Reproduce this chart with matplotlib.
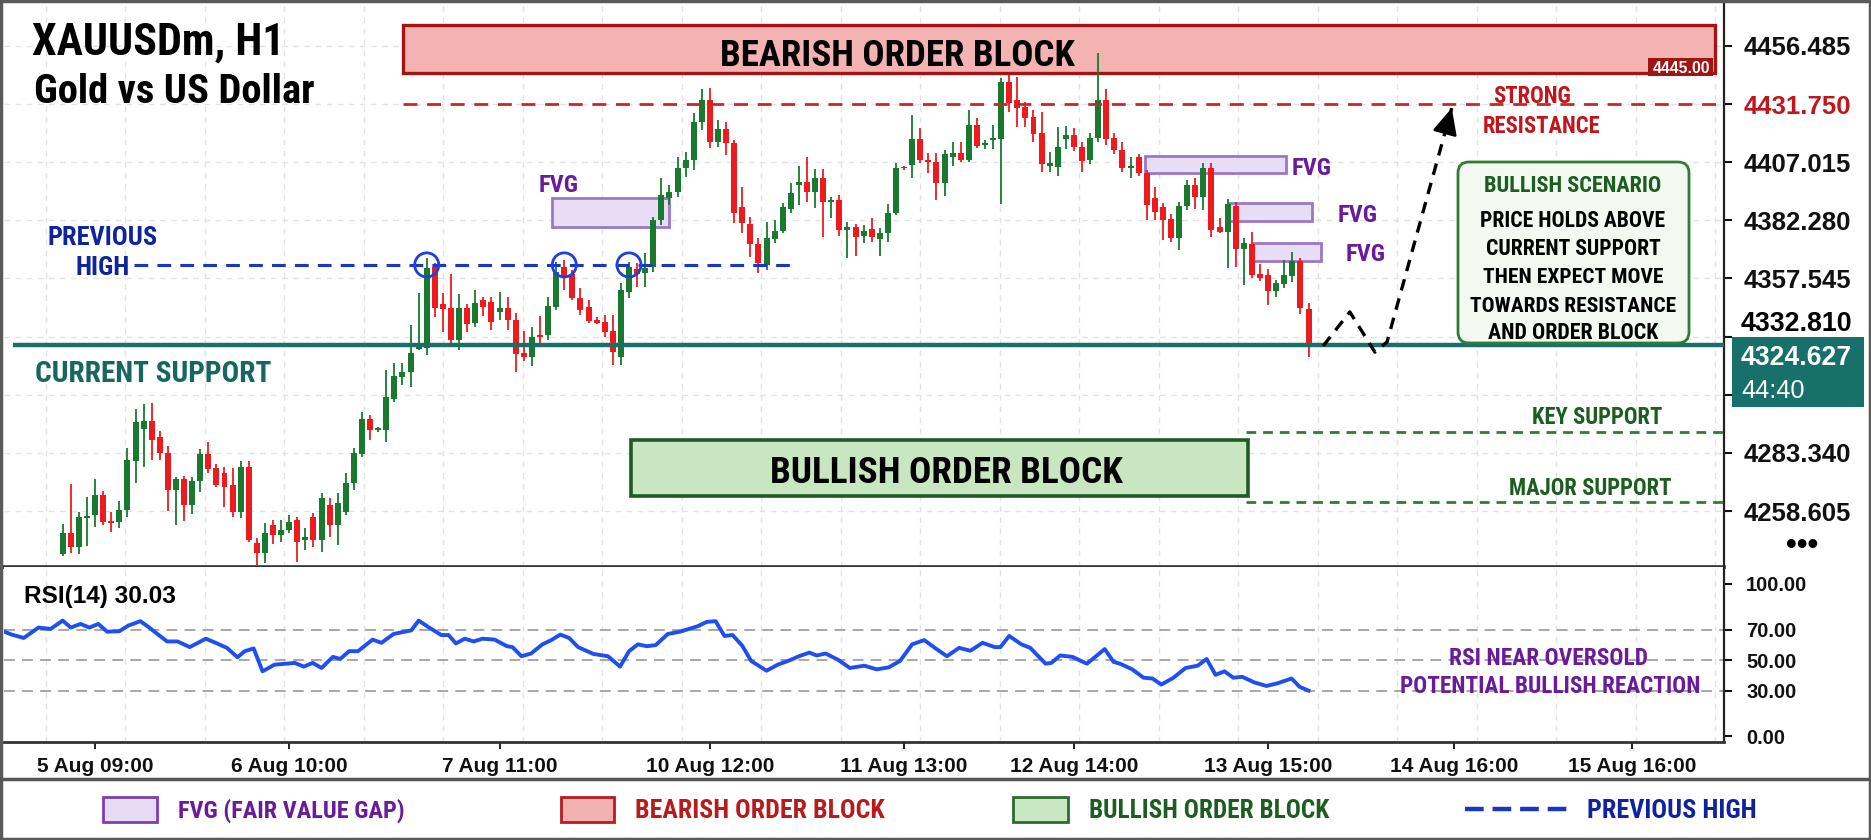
import os
import matplotlib
matplotlib.use("Agg")
import matplotlib.pyplot as plt
from matplotlib.patches import Rectangle, FancyBboxPatch
from matplotlib.lines import Line2D
from matplotlib import font_manager as fm
import numpy as np

# ---------------- data ----------------
opens = [4240.3, 4249.1, 4243.4, 4255.5, 4256.9, 4265.3, 4254.4, 4254.1, 4259.0, 4280.0,
         4293.4, 4297.0, 4290.0, 4283.4, 4267.5, 4272.1, 4261.2, 4271.5, 4282.9, 4276.8,
         4274.6, 4269.7, 4258.3, 4277.5, 4245.1, 4240.6, 4252.7, 4248.4, 4250.5, 4254.8,
         4246.3, 4256.2, 4246.3, 4261.2, 4252.6, 4258.3, 4270.4, 4282.8, 4297.6, 4293.1,
         4293.1, 4306.1, 4315.7, 4317.9, 4327.4, 4327.8, 4362.5, 4346.5, 4344.8, 4331.3,
         4344.8, 4338.4, 4348.4, 4347.7, 4343.4, 4344.8, 4339.9, 4326.0, 4324.3, 4333.5,
         4333.5, 4345.5, 4362.5, 4359.4, 4349.1, 4345.2, 4339.9, 4339.1, 4335.3, 4324.3,
         4351.9, 4361.4, 4360.0, 4362.5, 4382.4, 4391.6, 4394.4, 4404.4, 4407.9, 4424.2,
         4433.4, 4415.7, 4421.0, 4415.0, 4388.1, 4380.7, 4372.2, 4363.2, 4374.2, 4377.9,
         4386.9, 4397.3, 4398.5, 4394.2, 4400.4, 4390.2, 4390.9, 4378.2, 4379.6, 4375.8,
         4378.6, 4374.3, 4376.7, 4385.2, 4405.1, 4405.8, 4416.7, 4407.9, 4406.9, 4398.0,
         4409.4, 4410.8, 4407.9, 4422.8, 4414.3, 4416.4, 4416.9, 4441.0, 4433.5, 4430.6,
         4426.4, 4419.3, 4405.5, 4405.1, 4416.9, 4418.6, 4413.6, 4407.9, 4417.2, 4433.5,
         4417.4, 4412.2, 4404.7, 4409.4, 4402.3, 4391.9, 4388.1, 4382.8, 4374.9, 4388.5,
         4397.3, 4392.3, 4404.4, 4379.6, 4377.5, 4388.5, 4370.1, 4372.1, 4359.3, 4359.0,
         4352.2, 4355.1, 4358.7, 4364.9, 4344.6]
highs = [4253.1, 4270.1, 4258.3, 4264.4, 4272.1, 4267.3, 4258.3, 4263.0, 4285.3, 4301.9,
         4304.1, 4304.7, 4292.8, 4286.3, 4273.2, 4273.5, 4272.9, 4284.8, 4288.1, 4278.6,
         4277.2, 4276.8, 4280.0, 4280.0, 4247.0, 4253.7, 4254.8, 4254.8, 4256.9, 4256.2,
         4251.2, 4257.6, 4266.1, 4264.0, 4266.1, 4274.6, 4285.3, 4300.9, 4299.4, 4294.5,
         4318.6, 4321.4, 4321.4, 4337.7, 4351.2, 4366.1, 4364.0, 4351.5, 4359.4, 4350.9,
         4346.7, 4352.6, 4349.8, 4349.5, 4351.9, 4349.5, 4343.0, 4335.3, 4337.0, 4341.6,
         4349.8, 4364.7, 4365.4, 4361.1, 4353.3, 4348.4, 4341.0, 4342.0, 4342.0, 4355.4,
         4364.7, 4364.0, 4368.5, 4383.8, 4400.1, 4397.3, 4409.0, 4411.5, 4427.8, 4438.0,
         4438.4, 4424.9, 4424.2, 4416.4, 4396.6, 4383.8, 4374.6, 4381.7, 4382.4, 4389.5,
         4398.0, 4405.5, 4409.4, 4404.1, 4404.1, 4392.3, 4393.0, 4381.4, 4380.6, 4380.3,
         4383.4, 4379.2, 4389.1, 4406.5, 4405.5, 4427.1, 4421.4, 4410.8, 4410.8, 4412.2,
         4415.7, 4415.4, 4429.2, 4425.6, 4416.4, 4422.8, 4442.7, 4444.1, 4443.4, 4432.7,
         4429.2, 4428.5, 4411.2, 4422.1, 4422.5, 4421.4, 4415.7, 4419.3, 4453.3, 4438.1,
         4419.3, 4415.7, 4409.4, 4410.3, 4403.7, 4396.6, 4389.5, 4384.8, 4390.2, 4399.4,
         4400.4, 4406.5, 4406.5, 4383.2, 4391.4, 4390.2, 4374.9, 4377.5, 4363.6, 4361.6,
         4356.9, 4365.4, 4369.0, 4366.1, 4347.0]
lows = [4239.5, 4240.6, 4240.3, 4243.7, 4251.7, 4252.7, 4249.8, 4251.2, 4256.2, 4270.4,
        4277.5, 4280.3, 4280.3, 4258.8, 4252.7, 4254.5, 4257.3, 4266.8, 4274.6, 4269.0,
        4260.2, 4256.2, 4255.5, 4245.6, 4235.5, 4236.4, 4244.6, 4245.6, 4249.1, 4237.0,
        4242.0, 4243.4, 4241.3, 4247.7, 4244.1, 4256.9, 4267.5, 4281.7, 4288.8, 4292.3,
        4288.1, 4305.1, 4312.2, 4311.5, 4327.1, 4325.0, 4341.0, 4334.9, 4328.5, 4327.1,
        4334.9, 4337.0, 4341.6, 4335.6, 4339.9, 4335.6, 4317.9, 4322.6, 4320.3, 4329.9,
        4331.3, 4344.1, 4352.6, 4348.4, 4342.0, 4338.4, 4338.2, 4332.8, 4320.7, 4320.7,
        4349.1, 4354.0, 4354.0, 4360.4, 4380.3, 4388.8, 4392.3, 4400.5, 4403.7, 4420.7,
        4412.9, 4413.3, 4410.0, 4381.0, 4376.7, 4366.8, 4359.7, 4361.1, 4372.5, 4377.0,
        4385.2, 4388.8, 4390.0, 4387.4, 4375.3, 4383.1, 4375.8, 4366.1, 4367.2, 4372.5,
        4373.2, 4367.2, 4373.2, 4384.5, 4403.7, 4400.1, 4406.5, 4402.3, 4390.9, 4392.8,
        4405.5, 4406.9, 4407.2, 4412.9, 4412.6, 4412.6, 4389.1, 4428.5, 4422.1, 4422.1,
        4415.7, 4402.7, 4403.0, 4401.3, 4412.6, 4411.8, 4402.7, 4406.1, 4415.4, 4414.3,
        4410.3, 4403.0, 4400.4, 4401.3, 4382.4, 4382.4, 4373.9, 4373.2, 4369.6, 4386.7,
        4387.1, 4386.7, 4375.3, 4376.8, 4361.9, 4362.6, 4354.8, 4357.6, 4356.5, 4346.3,
        4349.8, 4353.6, 4355.9, 4342.3, 4324.3]
closes = [4249.1, 4243.2, 4255.9, 4256.5, 4265.3, 4254.1, 4253.7, 4259.0, 4280.3, 4296.6,
          4297.0, 4288.8, 4283.1, 4267.5, 4272.1, 4261.2, 4271.5, 4282.9, 4276.3, 4269.7,
          4269.0, 4258.3, 4277.5, 4246.3, 4240.6, 4249.1, 4248.4, 4250.5, 4254.1, 4245.6,
          4247.7, 4246.3, 4264.0, 4252.6, 4261.9, 4270.4, 4283.1, 4297.6, 4293.1, 4293.6,
          4307.2, 4316.0, 4317.9, 4325.7, 4328.2, 4361.8, 4344.8, 4344.4, 4331.3, 4344.8,
          4338.2, 4347.2, 4345.2, 4339.1, 4344.8, 4339.9, 4325.4, 4324.3, 4332.8, 4332.8,
          4345.8, 4360.4, 4358.0, 4349.1, 4344.1, 4339.6, 4338.7, 4334.9, 4326.4, 4352.6,
          4362.5, 4359.4, 4361.8, 4382.4, 4393.0, 4394.4, 4404.4, 4407.9, 4424.2, 4433.4,
          4415.7, 4421.0, 4415.3, 4385.2, 4381.0, 4372.2, 4364.2, 4374.6, 4377.9, 4387.8,
          4393.7, 4398.5, 4394.2, 4400.4, 4390.2, 4390.9, 4378.2, 4379.6, 4375.3, 4377.7,
          4375.3, 4376.7, 4385.2, 4404.7, 4404.4, 4416.7, 4407.9, 4406.9, 4398.0, 4410.3,
          4410.8, 4407.9, 4422.8, 4414.0, 4414.9, 4417.4, 4441.0, 4432.0, 4429.9, 4425.6,
          4418.8, 4406.1, 4406.5, 4413.6, 4418.6, 4413.6, 4407.5, 4417.2, 4433.5, 4416.9,
          4412.2, 4404.7, 4405.5, 4402.3, 4388.8, 4385.7, 4382.4, 4374.6, 4388.5, 4397.3,
          4392.3, 4404.4, 4378.2, 4377.5, 4389.1, 4370.1, 4372.5, 4359.0, 4357.6, 4352.2,
          4355.5, 4359.0, 4364.9, 4344.8, 4329.5]

rsi_bar = [-7.8, -6.3, -4.8, -3.0, -1.5, 0.0, 1.0, 2.2, 3.3, 4.4, 5.5, 7.0, 8.1, 9.6, 10.7,
           11.8, 12.9, 14.2, 15.7, 17.7, 18.9, 20.3, 21.6, 22.5, 23.6, 24.7, 26.2, 27.6, 28.7,
           29.8, 30.9, 32.0, 33.4, 34.3, 35.4, 36.5, 38.3, 39.4, 40.9, 43.1, 44.0, 45.3, 46.8,
           47.7, 48.6, 49.7, 50.8, 51.9, 53.4, 54.9, 55.6, 56.7, 57.9, 59.3, 60.4, 61.5, 62.6,
           63.7, 65.6, 67.4, 68.9, 70.0, 71.1, 72.2, 73.3, 74.8, 76.3, 77.4, 78.5, 79.6, 80.7,
           81.8, 82.8, 84.0, 85.1, 87.0, 88.4, 89.9, 91.0, 92.3, 93.2, 94.3, 95.8, 97.3, 99.1,
           100.6, 102.1, 103.5, 105.0, 106.5, 107.8, 109.3, 110.8, 112.2, 113.7, 115.2, 115.9,
           117.0, 118.5, 119.6, 121.5, 122.2, 123.3, 124.8, 126.6, 128.8, 129.9, 130.7, 132.2,
           133.6, 134.7, 135.8, 137.3, 138.8, 140.3, 141.4, 142.5, 143.6, 144.7, 145.8, 147.3,
           148.8, 150.2, 151.9, 152.9, 154.0]
rsi_val = [69.9, 66.8, 64.6, 71.4, 70.5, 76.0, 71.4, 73.8, 71.4, 73.8, 68.7, 69.0, 72.7, 75.6,
           71.4, 66.8, 62.3, 62.3, 58.6, 64.1, 61.4, 58.1, 51.9, 55.9, 57.7, 42.7, 47.1, 47.7,
           48.2, 45.8, 48.2, 44.9, 52.2, 50.8, 55.9, 55.9, 63.5, 61.4, 67.2, 69.6, 76.0, 71.4,
           66.5, 66.5, 61.0, 64.1, 62.3, 64.1, 63.5, 59.2, 58.6, 52.6, 54.4, 60.4, 63.2, 66.8,
           64.6, 58.6, 54.1, 52.6, 45.8, 55.9, 60.4, 59.2, 59.9, 67.2, 68.7, 70.5, 72.3, 75.1,
           75.6, 65.9, 66.5, 59.5, 49.5, 43.1, 47.1, 50.0, 52.6, 55.0, 53.1, 54.4, 50.4, 44.9,
           46.4, 44.0, 45.3, 49.5, 60.4, 63.2, 58.1, 52.6, 58.1, 56.2, 61.4, 58.6, 58.6, 65.9,
           60.4, 58.1, 47.7, 48.2, 53.1, 52.2, 47.7, 57.3, 48.9, 47.7, 44.0, 38.5, 38.0, 34.0,
           38.5, 44.9, 46.4, 50.8, 40.4, 42.7, 38.5, 39.1, 35.4, 33.1, 34.9, 38.0, 32.5, 30.03]
rsi_levels = [70, 50, 30]
rsi_ticks = [0, 30, 50, 70, 100]

price_ticks = [4456.485, 4431.750, 4407.015, 4382.280, 4357.545, 4332.810, 4308.075, 4283.340, 4258.605]

date_tick_bar = [4, 28, 54, 80, 104, 125, 149, 172, 194]
date_tick_labels = ["5 Aug 09:00", "6 Aug 10:00", "7 Aug 11:00", "10 Aug 12:00", "11 Aug 13:00",
                    "12 Aug 14:00", "13 Aug 15:00", "14 Aug 16:00", "15 Aug 16:00"]

bear_ob = (42.1, 204.2, 4445.0, 4465.4)      # start bar, end bar, low, high
bull_ob = (70.2, 146.5, 4265.0, 4288.8)
resistance = 4431.75
resistance_start = 42.1
support = 4329.2
support_start = -6.1
current_price = 4324.627
countdown = "44:40"
prev_high = 4363.3
prev_high_span = (8.8, 90.0)
prev_high_touch_bars = [45, 62, 70]
key_support = 4292.2
major_support = 4262.4
support_zone_start = 146.3

fvg_start = [60.5, 133.8, 144.2, 147.1]
fvg_end = [74.9, 151.2, 154.4, 155.5]
fvg_low = [4379.4, 4402.4, 4382.0, 4365.0]
fvg_high = [4391.8, 4409.6, 4389.6, 4372.6]

proj_bar = [155.8, 159.1, 162.2, 163.7, 171.7]
proj_price = [4328.8, 4343.3, 4326.2, 4330.5, 4430.0]

# ---------------- fonts ----------------
_files = {os.path.basename(f.fname).lower(): f.fname for f in fm.fontManager.ttflist}


def _pick_condensed():
    for p in ["liberationsansnarrow-bold.ttf", "robotocondensed-bold.ttf",
              "notosans-condensedbold.ttf", "dejavusanscondensed-bold.ttf",
              "opensans-condensedbold.ttf", "opensanscondensed-bold.ttf"]:
        if p in _files:
            return _files[p]
    for name, path in sorted(_files.items()):
        if (("condensed" in name or "narrow" in name) and "bold" in name
                and not any(k in name for k in ("extra", "semi", "ultra", "italic", "oblique", "light"))):
            return path
    return None


COND_PATH = _pick_condensed()
REG = ["Liberation Sans", "DejaVu Sans"]

# ---------------- layout helpers (pixel geometry) ----------------
W, H = 1871, 840
X0_PX, BAR_PX = 62.7, 8.09
Y_REF_PX, PRICE_PER_PX = 104.0, 0.4254


def bx(px):
    return (px - X0_PX) / BAR_PX


def py(px):
    return resistance - (px - Y_REF_PX) * PRICE_PER_PX


UP, DOWN = "#18792f", "#ee1b1e"
TEAL = "#17706a"
DKRED = "#b71c1c"
PURPLE = "#6a1b9a"
DKGREEN = "#1b5e20"
BLUE = "#1a36c8"
NAVY = "#10239e"

fig = plt.figure(figsize=(W / 100, H / 100), dpi=100)
fig.patch.set_facecolor("white")

L, R = 4, 1724
ax = fig.add_axes([L / W, 1 - 567 / H, (R - L) / W, (567 - 3) / H])
ax_r = fig.add_axes([L / W, 1 - 742 / H, (R - L) / W, (742 - 567) / H])

xlim = (bx(L), bx(R))
for a in (ax, ax_r):
    a.set_xlim(*xlim)
    a.set_facecolor("white")
    a.spines["left"].set_visible(False)
    a.spines["top"].set_visible(False)
    a.spines["right"].set_color("#222222")
    a.spines["right"].set_linewidth(1.6)
    a.spines["bottom"].set_color("#333333")
    a.set_axisbelow(True)
ax.spines["bottom"].set_linewidth(2.6)
ax_r.spines["bottom"].set_linewidth(2.0)

ax.set_ylim(py(567), py(3))
ax_r.set_ylim(-3.67, 111.15)

grid_x = np.arange(bx(46), xlim[1], 79.5 / BAR_PX)
grid_kw = dict(color="#e2e2e2", lw=1.0, ls=(0, (4, 4)))

# ---------------- main panel ----------------
ax.set_xticks([])
ax.set_xticks(grid_x, minor=True)
ax.tick_params(axis="x", which="both", length=0, labelbottom=False)
ax.yaxis.tick_right()
# the 4332.810 and 4308.075 labels are drawn separately (the price tag covers that area)
tick_labels = [f"{v:.3f}" if i not in (5, 6) else "" for i, v in enumerate(price_ticks)]
ax.set_yticks(price_ticks, labels=tick_labels)
ax.tick_params(axis="y", length=6, width=1.5, pad=8, labelsize=18.5, colors="#111111")
for lbl in ax.get_yticklabels():
    lbl.set_fontfamily(REG)
    lbl.set_fontweight("bold")
ax.get_yticklabels()[1].set_color("#c0161c")
ax.grid(axis="y", **grid_kw)
ax.grid(axis="x", which="minor", **grid_kw)

# zones
ax.add_patch(Rectangle((bear_ob[0], bear_ob[2]), bear_ob[1] - bear_ob[0], bear_ob[3] - bear_ob[2],
                       facecolor="#f3b3b3", edgecolor="#a31515", lw=2.4, zorder=1.5))
ax.add_patch(Rectangle((bull_ob[0], bull_ob[2]), bull_ob[1] - bull_ob[0], bull_ob[3] - bull_ob[2],
                       facecolor="#c8e6c0", edgecolor="#1f5a22", lw=2.6, zorder=1.5))
for s, e, lo, hi in zip(fvg_start, fvg_end, fvg_low, fvg_high):
    ax.add_patch(Rectangle((s, lo), e - s, hi - lo, facecolor="#e8ddf4", edgecolor="#9a78c8",
                           lw=2.0, zorder=2))

# candles
o = np.array(opens); h = np.array(highs); lo_ = np.array(lows); c = np.array(closes)
idx = np.arange(len(o))
cols = np.where(c >= o, UP, DOWN)
ax.vlines(idx, lo_, h, colors=cols, lw=1.3, zorder=3)
body_bottom = np.minimum(o, c)
body_h = np.maximum(np.abs(c - o), 0.7)
ax.bar(idx, body_h, bottom=body_bottom, width=0.74, color=cols, lw=0, zorder=4)

# levels
ax.plot([resistance_start, xlim[1]], [resistance] * 2, color="#c62828", lw=2.0,
        ls=(0, (5, 3.5)), zorder=5)
ax.plot([support_start, xlim[1]], [support] * 2, color=TEAL, lw=3.2, zorder=5, solid_capstyle="butt")
ax.plot(prev_high_span, [prev_high] * 2, color=BLUE, lw=2.2, ls=(0, (4.5, 3)), zorder=5)
ax.scatter(prev_high_touch_bars, [prev_high] * len(prev_high_touch_bars), s=300,
           facecolors="none", edgecolors="#1f3fe0", linewidths=2.0, zorder=6)
for lvl in (key_support, major_support):
    ax.plot([support_zone_start, xlim[1]], [lvl] * 2, color="#2e7d32", lw=2.0,
            ls=(0, (3.5, 2.5)), zorder=5)

# projection path
ax.plot(proj_bar, proj_price, color="black", lw=2.4, ls=(0, (3.5, 2.5)), zorder=6)
f = 0.9
ax.annotate("", xy=(proj_bar[-1], proj_price[-1]),
            xytext=(proj_bar[-2] + f * (proj_bar[-1] - proj_bar[-2]),
                    proj_price[-2] + f * (proj_price[-1] - proj_price[-2])),
            arrowprops=dict(arrowstyle="-|>,head_length=0.8,head_width=0.38", color="black",
                            lw=2, shrinkA=0, shrinkB=0, mutation_scale=20), zorder=7)

# ---------------- RSI panel ----------------
ax_r.plot(rsi_bar, rsi_val, color="#1f4ff0", lw=2.8, zorder=4, solid_joinstyle="round")
for lv in rsi_levels:
    ax_r.axhline(lv, color="#a0a0a0", lw=1.3, ls=(0, (6, 4)), zorder=1)
ax_r.yaxis.tick_right()
ax_r.set_yticks(rsi_ticks, labels=[f"{v:.2f}" for v in rsi_ticks])
ax_r.tick_params(axis="y", length=6, width=1.5, pad=10, labelsize=14.5, colors="#111111")
for lbl in ax_r.get_yticklabels():
    lbl.set_fontfamily(REG)
    lbl.set_fontweight("bold")
ax_r.set_xticks(date_tick_bar, labels=date_tick_labels)
ax_r.set_xticks(grid_x, minor=True)
ax_r.tick_params(axis="x", which="major", length=5, width=1.3, pad=6, labelsize=15, colors="#111111")
ax_r.tick_params(axis="x", which="minor", length=0)
for lbl in ax_r.get_xticklabels():
    lbl.set_fontfamily(REG)
    lbl.set_fontweight("bold")
ax_r.grid(axis="x", which="minor", **grid_kw)

# ---------------- overlay (pixel coordinates) ----------------
ov = fig.add_axes([0, 0, 1, 1], zorder=10)
ov.set_xlim(0, W)
ov.set_ylim(H, 0)
ov.axis("off")

_fit = []


def T(x, y, s, size, color="black", ha="left", va="baseline", cond=True, weight="bold", width=None):
    if cond and COND_PATH:
        fp = fm.FontProperties(fname=COND_PATH, size=size)
        t = ov.text(x, y, s, color=color, ha=ha, va=va, fontproperties=fp)
    else:
        fam = REG if not cond else ["Roboto", "Liberation Sans", "DejaVu Sans"]
        t = ov.text(x, y, s, fontsize=size, color=color, ha=ha, va=va, family=fam, fontweight=weight)
    if width:
        _fit.append((t, width))
    return t


# border and legend separator
ov.add_patch(Rectangle((1, 1), W - 2, H - 2, fill=False, edgecolor="#5a5a5a", lw=2.5))
ov.plot([0, W], [779, 779], color="#555555", lw=2.5)

# titles
T(32, 55, "XAUUSDm, H1", 32, width=253)
T(34, 103, "Gold vs US Dollar", 29, width=280)

# zone labels
T(897, 66, "BEARISH ORDER BLOCK", 26, ha="center", width=355)
T(946, 483, "BULLISH ORDER BLOCK", 26, ha="center", width=354)
ov.add_patch(Rectangle((1648, 58), 65, 18, facecolor="#a01414", edgecolor="none"))
T(1710, 73, f"{bear_ob[2]:.2f}", 11, color="white", ha="right", cond=False, width=57)

T(1532, 103, "STRONG", 16, color="#c0161c", ha="center", width=78)
T(1542, 133, "RESISTANCE", 16, color="#c0161c", ha="center", width=118)

T(103, 245, "PREVIOUS", 19, color=NAVY, ha="center", width=110)
T(103, 275, "HIGH", 19, color=NAVY, ha="center", width=54)
T(35, 382, "CURRENT SUPPORT", 21, color="#17665f", width=236)

T(539, 192, "FVG", 17, color=PURPLE, width=40)
T(1292, 175, "FVG", 17, color=PURPLE, width=40)
T(1338, 222, "FVG", 17, color=PURPLE, width=40)
T(1346, 261, "FVG", 17, color=PURPLE, width=40)

T(1597, 424, "KEY SUPPORT", 16, color=DKGREEN, ha="center", width=131)
T(1590, 495, "MAJOR SUPPORT", 16, color=DKGREEN, ha="center", width=163)

# scenario box
ov.add_patch(FancyBboxPatch((1458, 162), 231, 181, boxstyle="round,pad=0,rounding_size=11",
                            facecolor="#f3f9f0", edgecolor="#2e7d32", lw=2))
T(1573, 192, "BULLISH SCENARIO", 15.5, color=DKGREEN, ha="center", width=178)
for yy, line, wd in zip([227, 255, 283, 312, 339],
                        ["PRICE HOLDS ABOVE", "CURRENT SUPPORT", "THEN EXPECT MOVE",
                         "TOWARDS RESISTANCE", "AND ORDER BLOCK"],
                        [185, 175, 180, 206, 171]):
    T(1573, yy, line, 15.5, ha="center", width=wd)

# price-axis labels around the current price tag
T(1741, 331, f"{price_ticks[5]:.3f}", 18.5, cond=False, va="baseline", width=112)

# current price tag
ov.add_patch(Rectangle((1732, 337), 132, 70, facecolor=TEAL, edgecolor="none"))
T(1741, 365, f"{current_price:.3f}", 18.5, color="white", cond=False, width=111)
T(1741, 398, countdown, 18.5, color="white", cond=False, weight="normal", width=64)

T(1802, 546, "\u2022\u2022\u2022", 22, ha="center", va="center", cond=False)

# RSI labels
T(24, 603, f"RSI(14) {rsi_val[-1]:.2f}", 17, cond=False, width=152)
T(1549, 665, "RSI NEAR OVERSOLD", 16.3, color=PURPLE, ha="center", width=198)
T(1550, 693, "POTENTIAL BULLISH REACTION", 16.3, color=PURPLE, ha="center", width=298)

# legend
ov.add_patch(Rectangle((103, 797), 54, 25, facecolor="#e6dbf3", edgecolor="#7e3fb0", lw=2))
T(178, 818, "FVG (FAIR VALUE GAP)", 17.5, color=PURPLE, width=226)
ov.add_patch(Rectangle((561, 797), 53, 25, facecolor="#f3b2b2", edgecolor=DKRED, lw=2))
T(635, 818, "BEARISH ORDER BLOCK", 17.5, color=DKRED, width=248)
ov.add_patch(Rectangle((1013, 797), 55, 25, facecolor="#c9e7c2", edgecolor="#2e6b30", lw=2))
T(1089, 818, "BULLISH ORDER BLOCK", 17.5, color=DKGREEN, width=239)
ov.add_line(Line2D([1465, 1567], [809, 809], color=BLUE, lw=3.2, ls=(0, (4.2, 2))))
T(1587, 818, "PREVIOUS HIGH", 17.5, color=NAVY, width=169)

# fit text widths to the reference widths (keeps size if font already matches)
renderer = fig.canvas.get_renderer()
for t, target in _fit:
    wpx = t.get_window_extent(renderer).width
    if wpx > 0:
        scale = min(max(target / wpx, 0.7), 1.15)
        t.set_fontsize(t.get_fontsize() * scale)

fig.savefig("out.png", dpi=100, facecolor="white")
